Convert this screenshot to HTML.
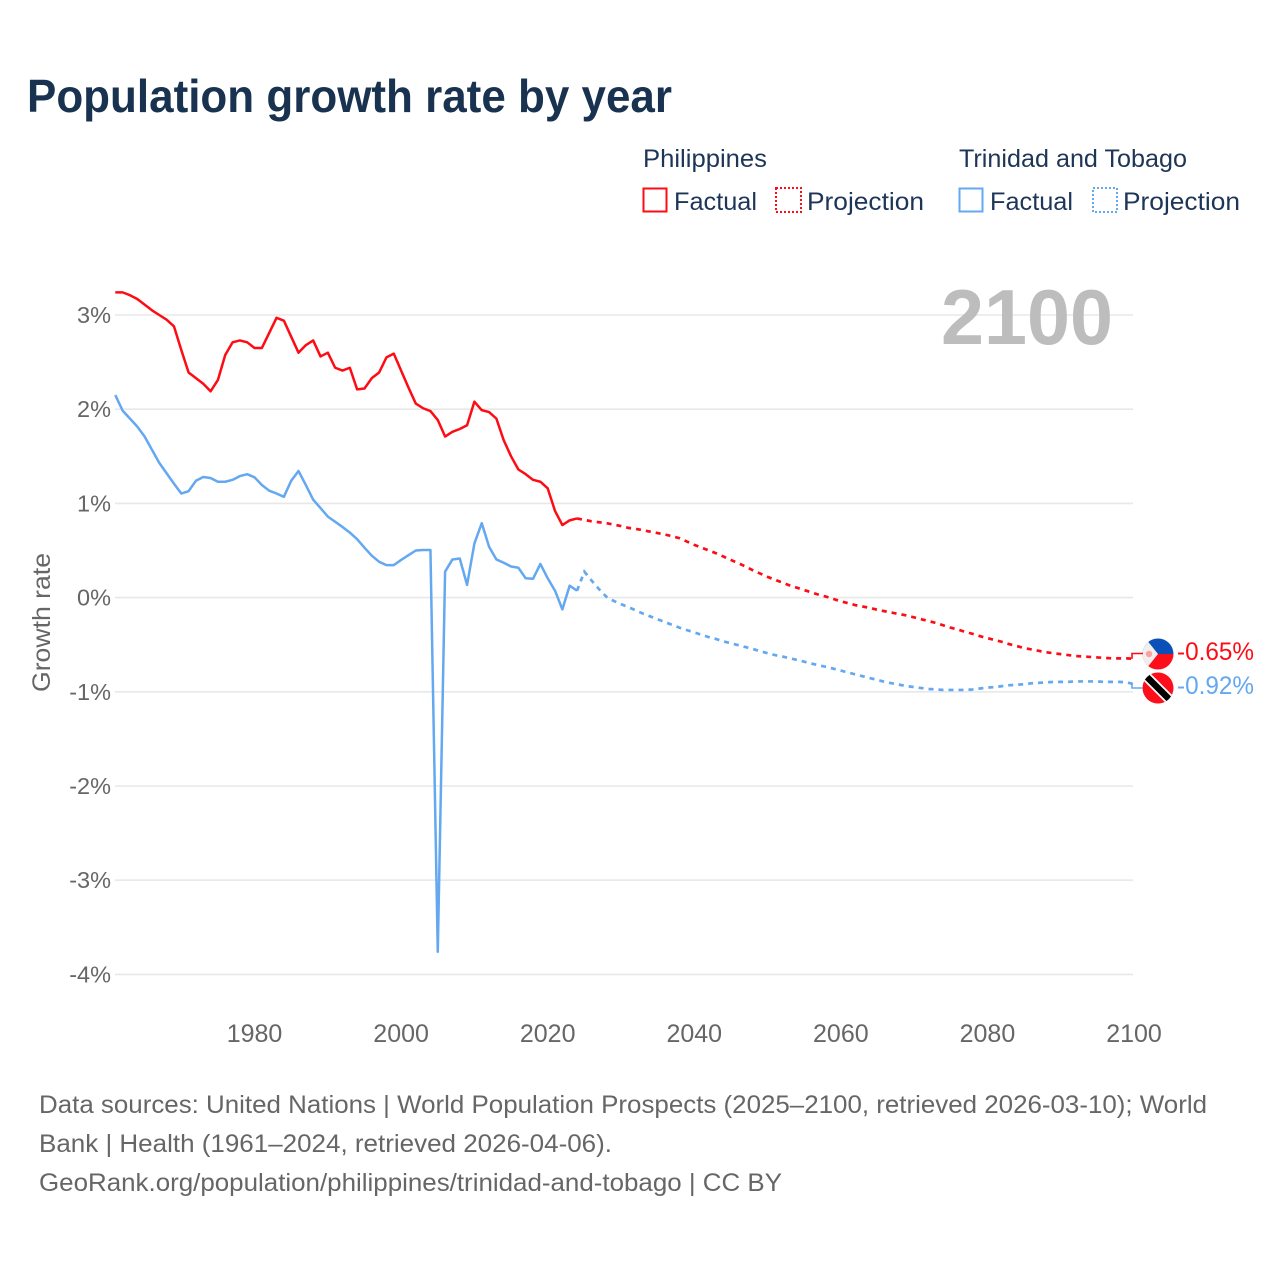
<!DOCTYPE html>
<html lang="en">
<head>
<meta charset="utf-8">
<title>Population growth rate by year</title>
<style>
html,body{margin:0;padding:0;background:#fff;}
svg{display:block;font-family:"Liberation Sans",sans-serif;}
</style>
</head>
<body>
<svg id="chart" width="1280" height="1280" viewBox="0 0 1280 1280" xmlns="http://www.w3.org/2000/svg">
<defs>
<clipPath id="ph-clip"><circle cx="1158" cy="654" r="15.5"/></clipPath>
<clipPath id="tt-clip"><circle cx="1158" cy="688" r="15.5"/></clipPath>
</defs>
<rect x="0" y="0" width="1280" height="1280" fill="#ffffff"/>
<text x="27" y="112" font-size="46" font-weight="700" fill="#18324f" textLength="645" lengthAdjust="spacingAndGlyphs">Population growth rate by year</text>

<g font-size="25" fill="#1d3556">
<text x="643" y="167" textLength="124" lengthAdjust="spacingAndGlyphs">Philippines</text>
<text x="959" y="167" textLength="228" lengthAdjust="spacingAndGlyphs">Trinidad and Tobago</text>
<g>
<rect x="643.5" y="188.5" width="23" height="23" fill="none" stroke="#fe0c14" stroke-width="2"/>
<text x="674" y="210" textLength="83" lengthAdjust="spacingAndGlyphs">Factual</text>
</g>
<g>
<rect x="776" y="188" width="25" height="24" fill="none" stroke="#fe0c14" stroke-width="2" stroke-dasharray="2 2"/>
<text x="807" y="210" textLength="117" lengthAdjust="spacingAndGlyphs">Projection</text>
</g>
<g>
<rect x="959.5" y="188.5" width="23" height="23" fill="none" stroke="#63a8f0" stroke-width="2"/>
<text x="990" y="210" textLength="83" lengthAdjust="spacingAndGlyphs">Factual</text>
</g>
<g>
<rect x="1093" y="188" width="24" height="24" fill="none" stroke="#63a8f0" stroke-width="2" stroke-dasharray="2 2"/>
<text x="1123" y="210" textLength="117" lengthAdjust="spacingAndGlyphs">Projection</text>
</g>
</g>

<g id="grid"></g>
<g id="y-labels"></g>
<g id="x-labels"></g>
<text transform="translate(50 692) rotate(-90)" font-size="25" fill="#666666" textLength="139" lengthAdjust="spacingAndGlyphs">Growth rate</text>
<text x="941" y="344" font-size="78" font-weight="700" fill="#bdbdbd" textLength="172" lengthAdjust="spacingAndGlyphs">2100</text>

<g id="series"></g>

<g clip-path="url(#ph-clip)">
<rect x="1142" y="638" width="32" height="16" fill="#0a50b8"/>
<rect x="1142" y="654" width="32" height="17" fill="#fc0f1b"/>
<polygon points="1142,634 1158,654 1142,674" fill="#efefef"/>
<circle cx="1149" cy="654" r="3.2" fill="#fca0a0"/>
</g>
<g clip-path="url(#tt-clip)">
<rect x="1142" y="672" width="32" height="32" fill="#fc0f1b"/>
<line x1="1144" y1="674" x2="1172" y2="702" stroke="#ffffff" stroke-width="10"/>
<line x1="1144" y1="674" x2="1172" y2="702" stroke="#000000" stroke-width="6.5"/>
</g>
<g id="end-labels"></g>

<g font-size="25" fill="#666666">
<text x="39" y="1113" textLength="1168" lengthAdjust="spacingAndGlyphs">Data sources: United Nations | World Population Prospects (2025–2100, retrieved 2026-03-10); World</text>
<text x="39" y="1152" textLength="573" lengthAdjust="spacingAndGlyphs">Bank | Health (1961–2024, retrieved 2026-04-06).</text>
<text x="39" y="1191" textLength="743" lengthAdjust="spacingAndGlyphs">GeoRank.org/population/philippines/trinidad-and-tobago | CC BY</text>
</g>
</svg>

<script>
const yTicks = [3, 2, 1, 0, -1, -2, -3, -4];
const xTicks = [1980, 2000, 2020, 2040, 2060, 2080, 2100];
const factualStartYear = 1961;
const projectionStartYear = 2024;
const philippinesFactual = [3.24,3.24,3.21,3.17,3.11,3.05,3.0,2.95,2.88,2.63,2.39,2.33,2.27,2.19,2.31,2.575,2.71,2.73,2.71,2.65,2.65,2.81,2.97,2.94,2.77,2.6,2.68,2.73,2.56,2.6,2.44,2.41,2.44,2.21,2.22,2.33,2.39,2.55,2.59,2.41,2.23,2.06,2.01,1.98,1.885,1.71,1.76,1.79,1.83,2.08,1.99,1.97,1.9,1.67,1.5,1.36,1.31,1.25,1.23,1.16,0.92,0.77,0.82,0.84];
const trinidadFactual = [2.15,1.985,1.9,1.815,1.71,1.57,1.43,1.32,1.21,1.105,1.13,1.24,1.28,1.27,1.23,1.23,1.25,1.29,1.31,1.277,1.195,1.135,1.105,1.07,1.24,1.344,1.195,1.04,0.95,0.86,0.805,0.75,0.69,0.62,0.53,0.445,0.38,0.345,0.345,0.4,0.45,0.5,0.505,0.505,-3.76,0.275,0.405,0.415,0.135,0.575,0.79,0.54,0.405,0.37,0.33,0.317,0.205,0.2,0.357,0.205,0.073,-0.125,0.127,0.073];
const philippinesProjection = [0.84,0.825,0.81,0.8,0.79,0.775,0.76,0.74,0.73,0.715,0.7,0.685,0.67,0.65,0.63,0.595,0.56,0.53,0.5,0.47,0.435,0.4,0.365,0.33,0.29,0.255,0.22,0.19,0.16,0.13,0.105,0.08,0.055,0.03,0.01,-0.015,-0.04,-0.06,-0.08,-0.095,-0.11,-0.13,-0.145,-0.16,-0.175,-0.19,-0.21,-0.23,-0.25,-0.27,-0.295,-0.32,-0.34,-0.365,-0.385,-0.41,-0.43,-0.45,-0.47,-0.495,-0.515,-0.535,-0.55,-0.565,-0.58,-0.59,-0.6,-0.61,-0.62,-0.625,-0.63,-0.635,-0.64,-0.645,-0.645,-0.645,-0.65];
const trinidadProjection = [0.073,0.275,0.18,0.09,0.01,-0.035,-0.07,-0.1,-0.135,-0.17,-0.2,-0.23,-0.26,-0.29,-0.32,-0.345,-0.37,-0.395,-0.42,-0.44,-0.465,-0.485,-0.505,-0.525,-0.545,-0.57,-0.59,-0.61,-0.625,-0.645,-0.66,-0.68,-0.7,-0.72,-0.735,-0.755,-0.775,-0.795,-0.815,-0.835,-0.855,-0.875,-0.895,-0.91,-0.925,-0.94,-0.95,-0.96,-0.97,-0.975,-0.98,-0.98,-0.98,-0.98,-0.975,-0.965,-0.955,-0.95,-0.94,-0.93,-0.925,-0.92,-0.91,-0.905,-0.9,-0.895,-0.895,-0.895,-0.89,-0.89,-0.89,-0.89,-0.895,-0.895,-0.895,-0.9,-0.92];

const NS = 'http://www.w3.org/2000/svg';
const RED = '#fe0c14';
const BLUE = '#63a8f0';
function xScale(year) { return 115.3 + (year - 1961) * (1134 - 115.3) / 139; }
function yScale(value) { return 597.6 - value * 94.2; }
function make(tag, attrs, parent) {
  const el = document.createElementNS(NS, tag);
  Object.keys(attrs).forEach(function (k) { el.setAttribute(k, attrs[k]); });
  parent.appendChild(el);
  return el;
}
function pathFor(values, startYear) {
  return values.map(function (v, i) {
    return (i ? 'L' : 'M') + xScale(startYear + i).toFixed(2) + ' ' + yScale(v).toFixed(2);
  }).join(' ');
}

const gridGroup = document.getElementById('grid');
const yGroup = document.getElementById('y-labels');
yTicks.forEach(function (t) {
  const line = make('line', { x1: 115, x2: 1133, y1: yScale(t), y2: yScale(t), stroke: '#e8e8e8', 'stroke-width': 1.6 }, gridGroup);
  
  
  const label = make('text', { x: 111, y: yScale(t) + 8, 'text-anchor': 'end', 'font-size': 23.5, fill: '#666666' }, yGroup);
  
  
  label.textContent = t + '%';
});

const xGroup = document.getElementById('x-labels');
xTicks.forEach(function (t) {
  const label = make('text', { x: xScale(t), y: 1042, 'text-anchor': 'middle', 'font-size': 25, fill: '#666666' }, xGroup);
  
  
  label.textContent = t;
});

const seriesGroup = document.getElementById('series');
const trinidadFactualLine = make('path', { d: pathFor(trinidadFactual, factualStartYear), fill: 'none', stroke: BLUE, 'stroke-width': 2.5, 'stroke-linejoin': 'round' }, seriesGroup);


const trinidadProjectionLine = make('path', { d: pathFor(trinidadProjection, projectionStartYear), fill: 'none', stroke: BLUE, 'stroke-width': 2.7, 'stroke-dasharray': '5 5' }, seriesGroup);


const philippinesFactualLine = make('path', { d: pathFor(philippinesFactual, factualStartYear), fill: 'none', stroke: RED, 'stroke-width': 2.5, 'stroke-linejoin': 'round' }, seriesGroup);


const philippinesProjectionLine = make('path', { d: pathFor(philippinesProjection, projectionStartYear), fill: 'none', stroke: RED, 'stroke-width': 2.7, 'stroke-dasharray': '5 5' }, seriesGroup);



const endGroup = document.getElementById('end-labels');
const phEnd = philippinesProjection[philippinesProjection.length - 1];
const ttEnd = trinidadProjection[trinidadProjection.length - 1];
const phLeader = make('path', { d: 'M' + (xScale(2100) - 2) + ' ' + yScale(phEnd) + ' V653.5 H1143', fill: 'none', stroke: RED, 'stroke-width': 1.6 }, endGroup);


const ttLeader = make('path', { d: 'M' + (xScale(2100) - 2) + ' ' + yScale(ttEnd) + ' V688 H1143', fill: 'none', stroke: BLUE, 'stroke-width': 1.6 }, endGroup);


const phLabel = make('text', { x: 1177, y: 660, 'font-size': 25, fill: RED, textLength: 77, lengthAdjust: 'spacingAndGlyphs' }, endGroup);


phLabel.textContent = phEnd.toFixed(2) + '%';
const ttLabel = make('text', { x: 1177, y: 694, 'font-size': 25, fill: BLUE, textLength: 77, lengthAdjust: 'spacingAndGlyphs' }, endGroup);


ttLabel.textContent = ttEnd.toFixed(2) + '%';
</script>
</body>
</html>
